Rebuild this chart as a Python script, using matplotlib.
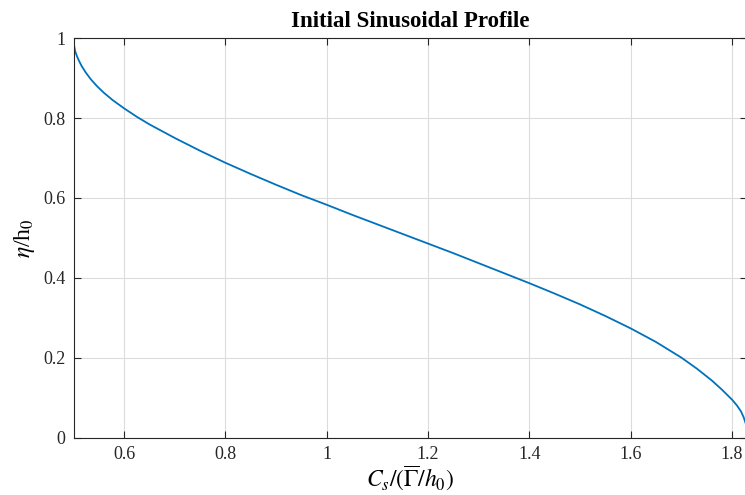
import numpy as np
import matplotlib
matplotlib.use("Agg")
import matplotlib.pyplot as plt

# values
cs_ratio = [0.500, 0.501, 0.503, 0.506, 0.510, 0.516, 0.524, 0.534, 0.546, 0.560,
            0.577, 0.600, 0.625, 0.650, 0.700, 0.750, 0.800, 0.850, 0.900, 0.950,
            1.000, 1.050, 1.100, 1.150, 1.200, 1.250, 1.300, 1.350, 1.400, 1.450,
            1.500, 1.550, 1.600, 1.650, 1.700, 1.730, 1.760, 1.780, 1.800, 1.810,
            1.818, 1.823, 1.827, 1.830]
eta = [1.000, 0.982, 0.968, 0.957, 0.945, 0.930, 0.914, 0.897, 0.880, 0.863,
       0.845, 0.824, 0.803, 0.784, 0.750, 0.718, 0.688, 0.660, 0.633, 0.607,
       0.583, 0.558, 0.534, 0.510, 0.486, 0.462, 0.437, 0.412, 0.387, 0.361,
       0.334, 0.305, 0.274, 0.240, 0.201, 0.174, 0.144, 0.121, 0.096, 0.081,
       0.066, 0.052, 0.037, 0.020]

xticks = [0.6, 0.8, 1.0, 1.2, 1.4, 1.6, 1.8]
xticklabels = ["0.6", "0.8", "1", "1.2", "1.4", "1.6", "1.8"]
yticks = [0, 0.2, 0.4, 0.6, 0.8, 1.0]
yticklabels = ["0", "0.2", "0.4", "0.6", "0.8", "1"]

plt.rcParams.update({
    "font.family": "Liberation Serif",
    "mathtext.fontset": "stix",
    "font.size": 13,
})

fig = plt.figure(figsize=(7.45, 4.95), dpi=100)
# right edge of the axes sits just past the figure edge, as in the reference crop
ax = fig.add_axes([0.0987, 0.1152, 0.9042, 0.808])

ax.plot(cs_ratio, eta, color="#0072BD", linewidth=1.3)

ax.set_xlim(0.5, 1.83)
ax.set_ylim(0, 1)
ax.set_xticks(xticks)
ax.set_xticklabels(xticklabels)
ax.set_yticks(yticks)
ax.set_yticklabels(yticklabels)
ax.tick_params(direction="in", top=True, right=True, length=5, width=0.8,
               labelsize=13, colors="#262626", pad=6)
ax.grid(True, color="#dcdcdc", linewidth=0.8)
ax.set_axisbelow(True)
for s in ax.spines.values():
    s.set_color("#262626")
    s.set_linewidth(0.8)

ax.set_xlabel(r"$C_s/(\overline{\Gamma}/h_0)$", fontsize=17, labelpad=0)
ax.set_ylabel(r"$\eta$/h$_0$", fontsize=17, labelpad=4)
ax.set_title("Initial Sinusoidal Profile", fontsize=16.5, fontweight="bold", pad=8)

fig.savefig("out.png", dpi=100)
